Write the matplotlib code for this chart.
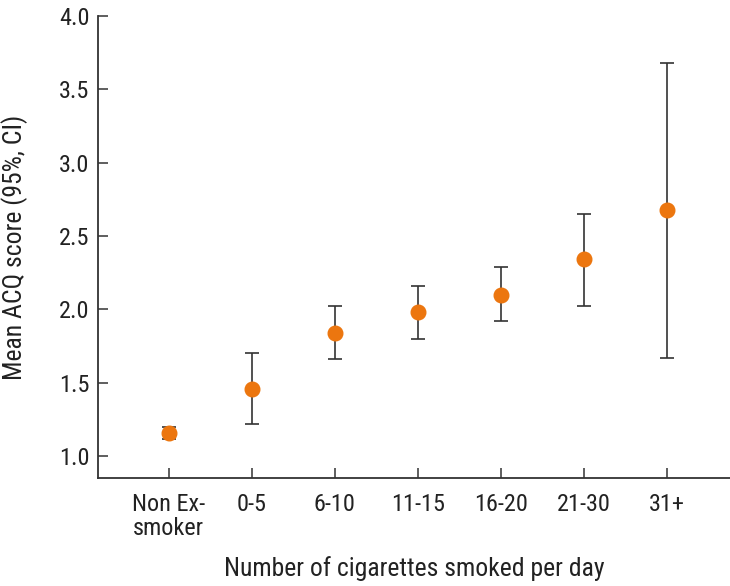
import numpy as np
import matplotlib
matplotlib.use("Agg")
from matplotlib import pyplot as plt

# Daten
categories = ["Non Ex-\nsmoker", "0-5", "6-10", "11-15", "16-20", "21-30", "31+"]
mean_acq = [1.16, 1.46, 1.84, 1.98, 2.10, 2.34, 2.68]
ci_lower = [1.12, 1.22, 1.66, 1.80, 1.92, 2.02, 1.67]
ci_upper = [1.20, 1.70, 2.02, 2.16, 2.29, 2.65, 3.68]
yticks = [1.0, 1.5, 2.0, 2.5, 3.0, 3.5, 4.0]

plt.rcParams['font.family'] = ['Roboto Condensed', 'Archivo Narrow', 'DejaVu Sans']

fig = plt.figure(figsize=(7.3, 5.86), dpi=100)
ax = fig.add_axes([0.134, 0.184, 0.866, 0.789])

x = np.arange(len(categories))
mean = np.array(mean_acq)
err = np.vstack([mean - np.array(ci_lower), np.array(ci_upper) - mean])
ax.errorbar(x, mean, yerr=err, fmt="none", ecolor="#333333", elinewidth=1.2,
            capsize=5, capthick=1.2, zorder=2)
ax.plot(x, mean, ls="None", marker="o", markersize=10.5, color="#ec760f",
        zorder=3)

ax.set_xlim(-0.855, 6.76)
ax.set_ylim(0.85, 4.0)
ax.set_xticks(x)
ax.set_xticklabels(categories, linespacing=1.05)
ax.set_yticks(yticks)
ax.set_yticklabels(["%.1f" % v for v in yticks])

for s in ["top", "right"]:
    ax.spines[s].set_visible(False)
for s in ["left", "bottom"]:
    ax.spines[s].set_color("#333333")
    ax.spines[s].set_linewidth(1.3)

ax.tick_params(axis="both", direction="in", length=7, width=1.1,
               color="#333333", labelsize=17.5, labelcolor="#222222")
ax.tick_params(axis="x", pad=11)
ax.tick_params(axis="y", pad=6)

ax.set_xlabel("Number of cigarettes smoked per day", fontsize=18.5,
              color="#222222", labelpad=11)
ax.set_ylabel("Mean ACQ score (95%, CI)", fontsize=18.5, color="#222222",
              labelpad=22)

fig.savefig("out.png", dpi=100)
